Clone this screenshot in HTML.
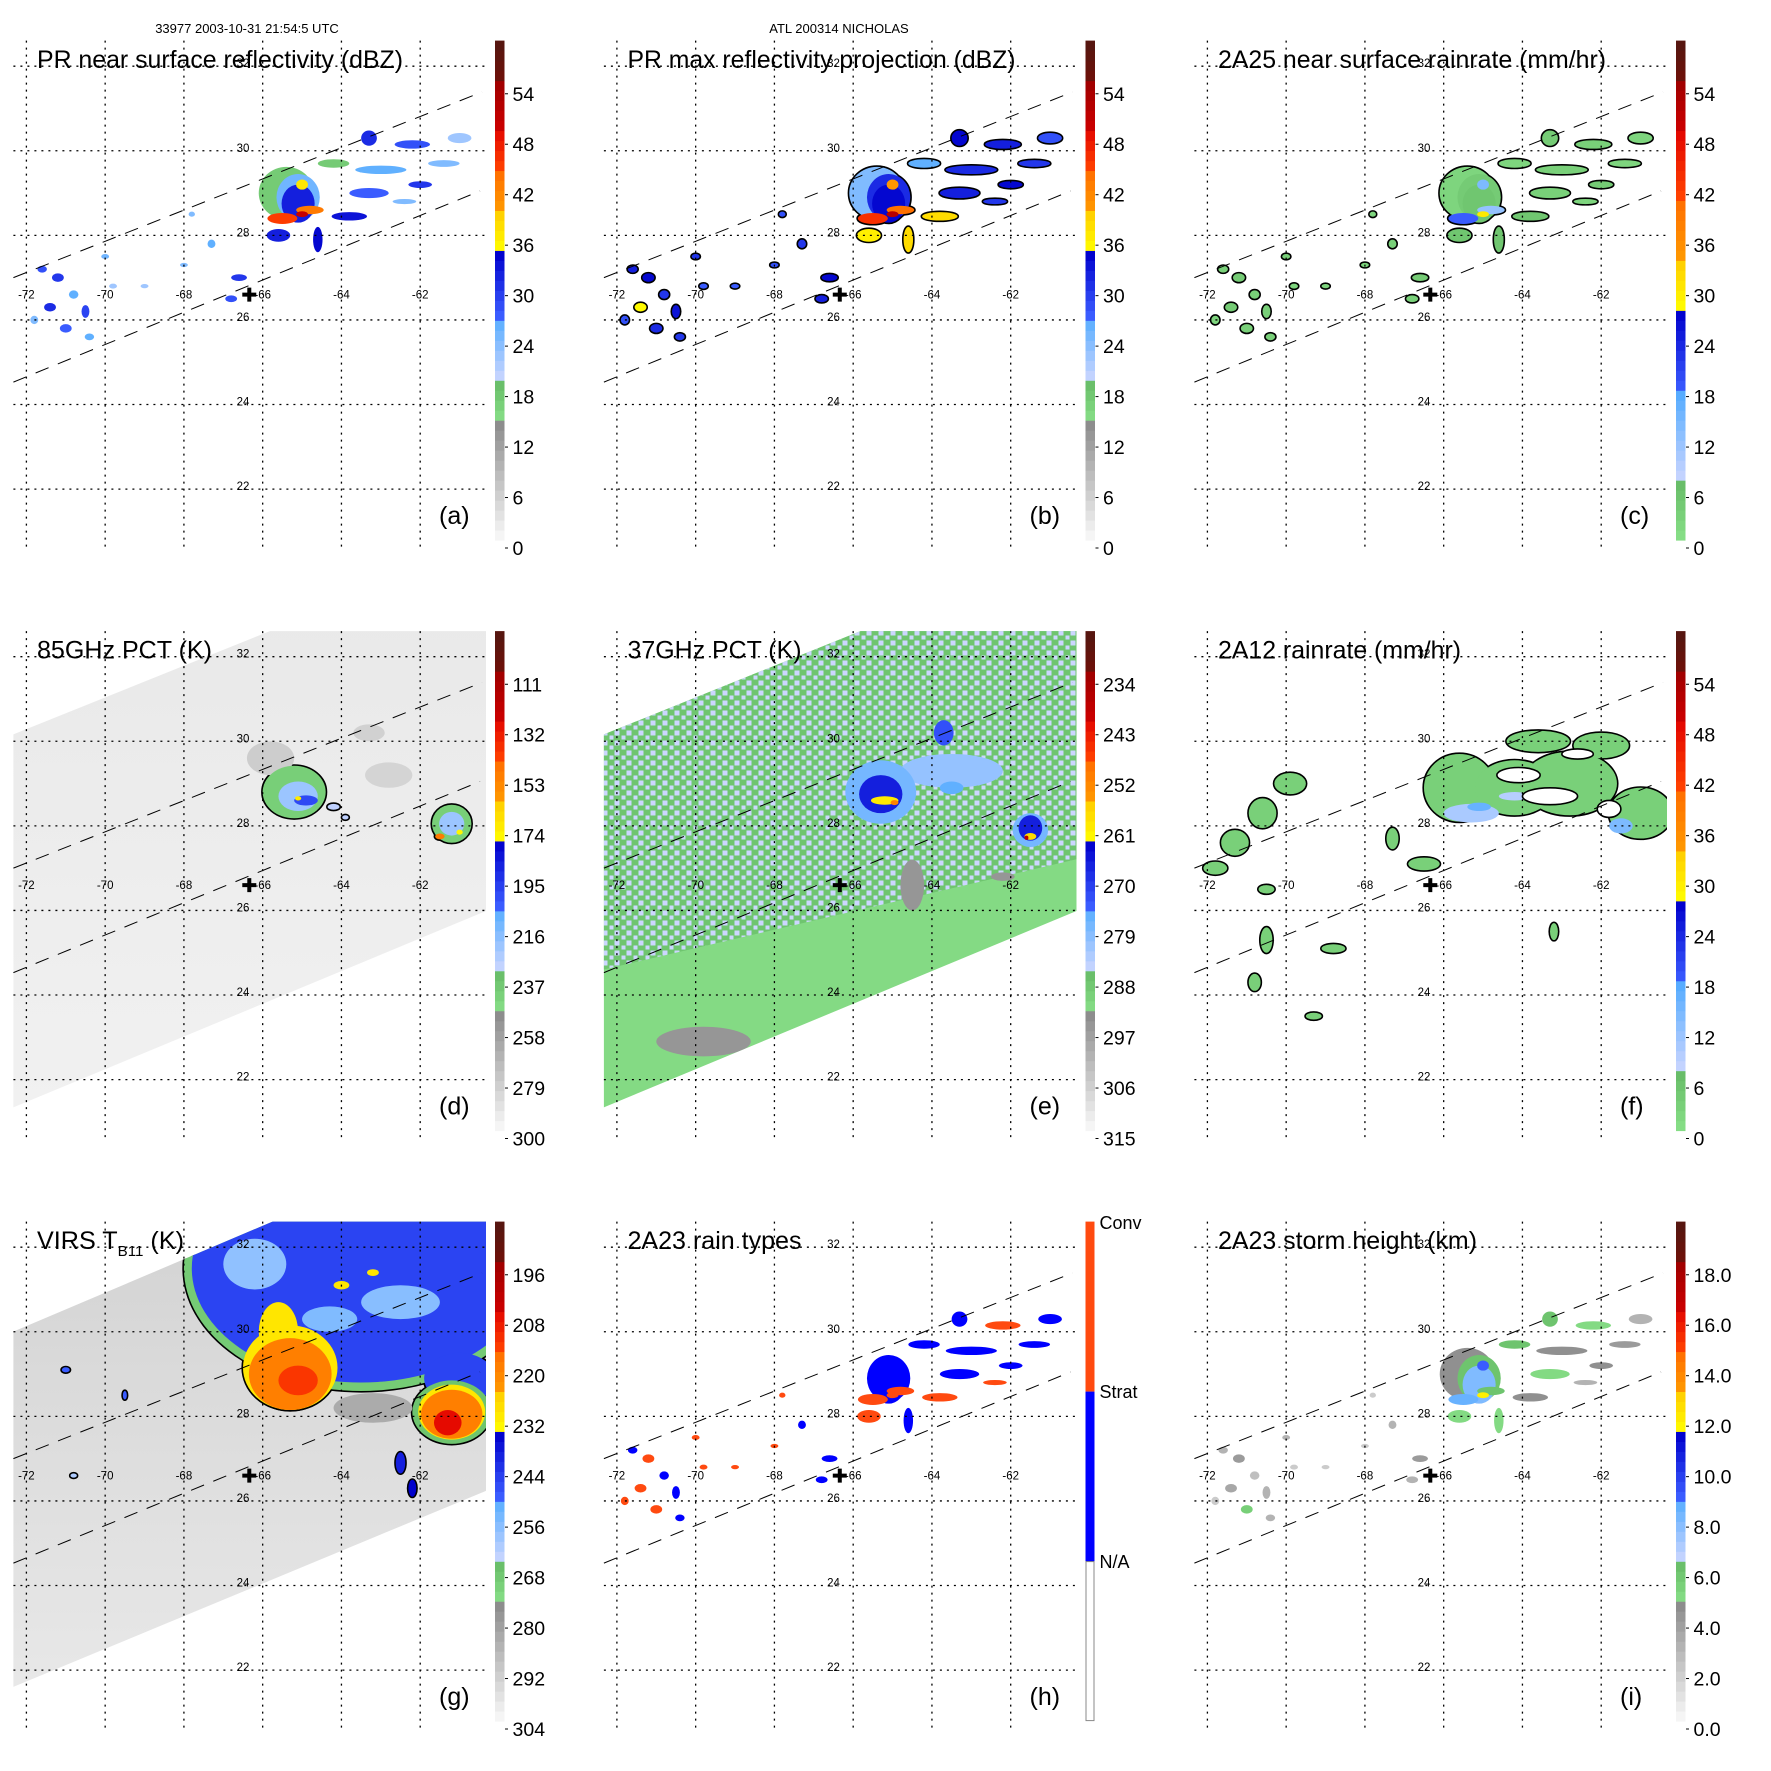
<!DOCTYPE html>
<html><head><meta charset="utf-8"><style>
html,body{margin:0;padding:0;background:#fff}
svg{display:block;font-family:"Liberation Sans",sans-serif}
</style></head><body>
<svg id="fig" xmlns="http://www.w3.org/2000/svg" width="1771" height="1771" viewBox="0 0 1771 1771">
<defs>
<pattern id="mott" width="12" height="10" patternUnits="userSpaceOnUse">
<rect width="12" height="10" fill="#6fc56f"/><rect x="0" y="0" width="5" height="5" fill="#ccd6ff"/><rect x="7" y="5" width="4" height="4" fill="#ccd6ff"/>
</pattern>
<linearGradient id="ggrad" x1="0" y1="0" x2="0" y2="1"><stop offset="0" stop-color="#d2d2d2"/><stop offset="1" stop-color="#e8e8e8"/></linearGradient>
<linearGradient id="dgrad" x1="0" y1="0" x2="0" y2="1"><stop offset="0" stop-color="#e9e9e9"/><stop offset="1" stop-color="#f1f1f1"/></linearGradient>
</defs>
<rect width="1771" height="1771" fill="#fff"/>
<text x="247" y="33" font-size="13" text-anchor="middle">33977 2003-10-31 21:54:5 UTC</text>
<text x="839" y="33" font-size="13" text-anchor="middle">ATL 200314 NICHOLAS</text>
</svg>
<script>
const lonTicks=[-72,-70,-68,-66,-64,-62];
const latTicks=[32,30,28,26,24,22];
const swathUpper=[[-72.33,27.0],[-60.43,31.39]];
const swathLower=[[-72.33,24.53],[-60.48,29.05]];
const stormCenter=[-66.34,26.6];
// PR cells
const prLon=[-71.6,-71.2,-70.8,-71.4,-70.5,-71.0,-70.4,-71.8,-69.8,-70.0,-69.0,-68.0,-67.3,-66.6,-66.8,-67.8,-65.4,-65.1,-65.1,-65.0,-65.5,-64.8,-65.0,-65.6,-64.6,-63.8,-63.3,-63.0,-63.3,-62.2,-61.4,-61.0,-62.0,-64.2,-62.4];
const prLat=[27.2,27.0,26.6,26.3,26.2,25.8,25.6,26.0,26.8,27.5,26.8,27.3,27.8,27.0,26.5,28.5,29.0,28.9,28.75,29.2,28.4,28.6,28.5,28.0,27.9,28.45,29.0,29.55,30.3,30.15,29.7,30.3,29.2,29.7,28.8];
const prRx=[0.12,0.15,0.12,0.15,0.1,0.15,0.12,0.1,0.1,0.1,0.1,0.1,0.1,0.2,0.15,0.08,0.7,0.55,0.42,0.15,0.38,0.35,0.15,0.3,0.12,0.45,0.5,0.65,0.2,0.45,0.4,0.3,0.3,0.4,0.3];
const prRy=[0.08,0.1,0.1,0.1,0.15,0.1,0.08,0.1,0.06,0.06,0.05,0.05,0.1,0.08,0.08,0.06,0.62,0.55,0.45,0.12,0.13,0.1,0.07,0.15,0.3,0.1,0.12,0.1,0.18,0.1,0.08,0.12,0.08,0.1,0.06];
const prA=[28,30,26,31,29,27,26,24,22,25,22,24,26,30,28,24,17,25,32,37,45,43,50,32,34,33,27,26,31,28,24,22,30,17,24];
const prB=[32,34,30,35,33,31,30,28,27,30,27,28,30,34,32,28,24,31,34,40,46,44,52,36,38,38,32,31,34,32,30,28,34,26,30];
const prC=[3,4,3,4,3,3,3,2,2,3,2,2,3,4,3,2,2,4,5,14,18,12,30,5,5,5,3,3,4,3,2,2,4,2,2];
const prH=[1,2,1,2,1,2,1,2,2,2,2,2,1,1,1,2,0,1,1,1,2,2,2,2,1,2,1,1,1,2,1,1,1,1,2];
const prI=[3,4,2.5,3.5,3,5.5,3,2,2,3,2,2,3,4,3,2,4.5,6,8,9,8.5,6,12,5,5,4.5,5,4.5,6,5,4,3,4.5,6,3];
// 85 GHz
const dLon=[-65.8,-63.3,-62.8,-65.2,-65.1,-64.9,-65.1,-64.2,-63.9,-61.2,-61.2,-61.5,-61.0];
const dLat=[29.6,30.2,29.2,28.8,28.7,28.6,28.65,28.45,28.2,28.05,28.05,27.75,27.85];
const dRx=[0.6,0.4,0.6,0.8,0.5,0.3,0.08,0.15,0.08,0.5,0.32,0.12,0.08];
const dRy=[0.4,0.2,0.3,0.62,0.35,0.12,0.05,0.07,0.05,0.45,0.28,0.07,0.06];
const dVal=[280,282,283,242,222,200,172,230,230,242,222,150,176];
// 37 GHz
const eLon=[-63.5,-64.5,-69.8,-62.2,-65.3,-65.3,-63.7,-63.5,-65.2,-64.95,-61.5,-61.5,-61.5,-61.6];
const eLat=[29.3,26.6,22.9,26.8,28.8,28.75,30.2,28.9,28.6,28.55,27.9,27.95,27.75,27.72];
const eRx=[1.3,0.3,1.2,0.3,0.9,0.55,0.25,0.3,0.35,0.1,0.45,0.3,0.15,0.05];
const eRy=[0.4,0.6,0.35,0.1,0.75,0.45,0.3,0.15,0.1,0.06,0.4,0.3,0.08,0.05];
const eVal=[281,296,296,296,278,267,273,276,260,252,278,267,258,238];
// 2A12
const fLon=[-71.3,-70.6,-69.9,-71.8,-70.5,-70.5,-67.3,-66.5,-63.2,-69.3,-68.8,-70.8,-65.6,-64.2,-62.8,-61.0,-63.6,-62.0,-65.3,-65.1,-61.5,-64.2];
const fLat=[27.6,28.3,29.0,27.0,26.5,25.3,27.7,27.1,25.5,23.5,25.1,24.3,28.9,28.9,29.0,28.3,30.0,29.9,28.3,28.45,28.0,28.7];
const fRx=[0.35,0.35,0.4,0.3,0.2,0.15,0.15,0.4,0.1,0.2,0.3,0.15,0.9,1.0,1.2,0.8,0.8,0.7,0.7,0.3,0.3,0.4];
const fRy=[0.3,0.35,0.25,0.15,0.1,0.3,0.25,0.15,0.2,0.08,0.1,0.2,0.8,0.65,0.75,0.6,0.25,0.3,0.22,0.1,0.18,0.1];
const fVal=[3,3,3,3,3,3,3,3,3,3,3,3,3,3,3,3,3,3,10,16,14,9];
const fHoleLon=[-64.1,-63.3,-62.6,-61.8];
const fHoleLat=[29.2,28.7,29.7,28.4];
const fHoleRx=[0.55,0.7,0.4,0.3];
const fHoleRy=[0.18,0.2,0.12,0.2];
// VIRS
const gLon=[-63.5,-63.5,-66.2,-62.5,-64.3,-61.0,-63.2,-65.6,-65.3,-65.3,-65.1,-61.2,-61.2,-61.2,-61.3,-62.5,-62.2,-71.0,-69.5,-70.8,-64.0,-63.2];
const gLat=[31.5,31.5,31.6,30.7,30.3,28.9,28.2,30.0,29.15,29.0,28.85,28.1,28.1,28.05,27.85,26.9,26.3,29.1,28.5,26.6,31.1,31.4];
const gRx=[4.5,4.3,0.8,1.0,0.7,0.9,1.0,0.5,1.2,1.05,0.5,1.0,0.85,0.78,0.35,0.12,0.1,0.1,0.05,0.08,0.2,0.15];
const gRy=[2.9,2.7,0.6,0.4,0.3,0.6,0.35,0.7,1.0,0.85,0.35,0.75,0.65,0.58,0.3,0.25,0.2,0.06,0.1,0.05,0.1,0.08];
const gVal=[270,246,258,257,256,246,284,230,230,219,213,268,230,219,206,240,235,250,250,262,230,230];
// colorbar tick labels
const labRefl=['0','6','12','18','24','30','36','42','48','54'];
const lab85=['300','279','258','237','216','195','174','153','132','111'];
const lab37=['315','306','297','288','279','270','261','252','243','234'];
const labVirs=['304','292','280','268','256','244','232','220','208','196'];
const labHt=['0.0','2.0','4.0','6.0','8.0','10.0','12.0','14.0','16.0','18.0'];

const NS='http://www.w3.org/2000/svg';
const svg=document.getElementById('fig');
const X=lon=>26.4+(lon+72)*39.38;
const Y=lat=>66.2+(32-lat)*42.29;
function mk(tag,attrs,parent){const e=document.createElementNS(NS,tag);for(const k in attrs)e.setAttribute(k,attrs[k]);parent.appendChild(e);return e;}
function hx(h){return [parseInt(h.slice(1,3),16),parseInt(h.slice(3,5),16),parseInt(h.slice(5,7),16)];}
function lerp(a,b,t){const A=hx(a),B=hx(b);return 'rgb('+A.map((v,i)=>Math.round(v+(B[i]-v)*t)).join(',')+')';}
const palStd=[[0,0.237,'#fafafa','#8a8a8a'],[0.237,0.32,'#88e088','#66bb66'],[0.32,0.45,'#ccd6ff','#50aaff'],[0.45,0.576,'#3a5cff','#0000cc'],[0.576,0.66,'#ffff00','#ffcc00'],[0.66,0.745,'#ff9a00','#ff6a00'],[0.745,0.83,'#ff4000','#e00000'],[0.83,0.915,'#c80000','#a00000'],[0.915,1.01,'#701008','#501812']];
const palRain=[[0,0.117,'#88e088','#66bb66'],[0.117,0.3,'#ccd6ff','#50aaff'],[0.3,0.457,'#3a5cff','#0000cc'],[0.457,0.56,'#ffff00','#ffcc00'],[0.56,0.69,'#ff9a00','#ff6a00'],[0.69,0.83,'#ff4000','#e00000'],[0.83,0.915,'#c80000','#a00000'],[0.915,1.01,'#701008','#501812']];
function colorAt(pal,f){f=Math.max(0,Math.min(1,f));for(const s of pal){if(f>=s[0]&&f<s[1])return lerp(s[2],s[3],(f-s[0])/(s[1]-s[0]));}return pal[pal.length-1][3];}
function poly(pts){return pts.map(p=>X(p[0]).toFixed(1)+','+Y(p[1]).toFixed(1)).join(' ');}

const panels=[
 {c:0,r:0,id:'a',title:'PR near surface reflectivity (dBZ)',tl:366,labels:labRefl,pal:palStd,norm:v=>v/60,cells:[prLon,prLat,prRx,prRy,prA],contour:null},
 {c:1,r:0,id:'b',title:'PR max reflectivity projection (dBZ)',tl:388,labels:labRefl,pal:palStd,norm:v=>v/60,cells:[prLon,prLat,prRx,prRy,prB],contour:v=>true},
 {c:2,r:0,id:'c',title:'2A25 near surface rainrate (mm/hr)',tl:388,labels:labRefl,pal:palRain,norm:v=>v/60,cells:[prLon,prLat,prRx,prRy,prC],contour:v=>true},
 {c:0,r:1,id:'d',title:'85GHz PCT (K)',tl:175,labels:lab85,pal:palStd,norm:v=>(300-v)/210,cells:[dLon,dLat,dRx,dRy,dVal],contour:v=>v<250,swath:[[-72.34,30.16],[-64.5,33.1],[-59,33.1],[-59,26.5],[-72.34,21.34]],bg:'url(#dgrad)'},
 {c:1,r:1,id:'e',title:'37GHz PCT (K)',tl:174,labels:lab37,pal:palStd,norm:v=>(315-v)/90,cells:[eLon,eLat,eRx,eRy,eVal],contour:null,swath:[[-72.34,30.16],[-64.5,33.1],[-59,33.1],[-59,26.5],[-72.34,21.34]],bg:'#84da84',mott:[[-72.34,30.16],[-64.5,33.1],[-59,33.1],[-59,27.5],[-72.34,24.6]]},
 {c:2,r:1,id:'f',title:'2A12 rainrate (mm/hr)',tl:243,labels:labRefl,pal:palRain,norm:v=>v/60,cells:[fLon,fLat,fRx,fRy,fVal],contour:v=>v<6,holes:true},
 {c:0,r:2,id:'g',title:'VIRS',tl:147,labels:labVirs,pal:palStd,norm:v=>(304-v)/120,cells:[gLon,gLat,gRx,gRy,gVal],contour:v=>v<272,swath:[[-72.34,30.0],[-64.5,33.1],[-59,33.1],[-59,26.75],[-72.34,21.6]],bg:'url(#ggrad)'},
 {c:1,r:2,id:'h',title:'2A23 rain types',tl:174,labels:null,pal:null,norm:null,cells:[prLon,prLat,prRx,prRy,prH],contour:null},
 {c:2,r:2,id:'i',title:'2A23 storm height (km)',tl:259,labels:labHt,pal:palStd,norm:v=>v/20,cells:[prLon,prLat,prRx,prRy,prI],contour:null}
];

panels.forEach(P=>{
 const g=mk('g',{transform:`translate(${(P.c*590.5).toFixed(1)},${(P.r*590.5).toFixed(1)})`},svg);
 
 
 const cp=mk('clipPath',{id:'clip'+P.id},g);
 mk('rect',{x:13.4,y:40.6,width:472.6,height:507.4},cp);
 const plot=mk('g',{'clip-path':`url(#clip${P.id})`},g);
 
 
 let dataG=plot;
 if(P.swath){
  const sc=mk('clipPath',{id:'sw'+P.id},g);
  mk('polygon',{points:poly(P.swath)},sc);
  const sp=mk('polygon',{points:poly(P.swath),fill:P.bg},plot);
  
  
  dataG=mk('g',{'clip-path':`url(#sw${P.id})`},plot);
  if(P.mott){
   const m=mk('polygon',{points:poly(P.mott),fill:'url(#mott)'},dataG);
   
   
  }
 }
 const [L,A,RX,RY,V]=P.cells;
 if(P.contour){
  for(let i=0;i<L.length;i++){
   if(P.id==='h'||!P.contour(V[i]))continue;
   const o=mk('ellipse',{cx:X(L[i]),cy:Y(A[i]),rx:RX[i]*39.38,ry:RY[i]*42.29,fill:'none',stroke:'#000','stroke-width':3.2},dataG);
   
   
  }
 }
 for(let i=0;i<L.length;i++){
  let col;
  if(P.id==='h'){ if(V[i]===0)continue; col=V[i]===2?'#ff4a10':'#0000ff'; }
  else col=colorAt(P.pal,P.norm(V[i]));
  const e=mk('ellipse',{cx:X(L[i]),cy:Y(A[i]),rx:RX[i]*39.38,ry:RY[i]*42.29,fill:col},dataG);
  
  
 }
 if(P.holes){
  for(let i=0;i<fHoleLon.length;i++){
   const h=mk('ellipse',{cx:X(fHoleLon[i]),cy:Y(fHoleLat[i]),rx:fHoleRx[i]*39.38,ry:fHoleRy[i]*42.29,fill:'#fff',stroke:'#000','stroke-width':1.6},dataG);
   
   
  }
 }
 lonTicks.forEach(lo=>{
  const l=mk('line',{x1:X(lo),x2:X(lo),y1:40.6,y2:548,stroke:'#000','stroke-width':1.3,'stroke-dasharray':'2,5'},g);
  
  
  const t=mk('text',{x:X(lo),y:298.5,'font-size':11.5,'text-anchor':'middle'},g);
  t.textContent=String(lo);
  
  
 });
 latTicks.forEach(la=>{
  const l=mk('line',{x1:13.4,x2:486,y1:Y(la),y2:Y(la),stroke:'#000','stroke-width':1.3,'stroke-dasharray':'2,5'},g);
  
  
  const t=mk('text',{x:243,y:Y(la)+1,'font-size':11.5,'text-anchor':'middle'},g);
  t.textContent=String(la);
  
  
 });
 [swathUpper,swathLower].forEach((s,k)=>{
  const l=mk('line',{x1:X(s[0][0]),y1:Y(s[0][1]),x2:X(s[1][0]),y2:Y(s[1][1]),stroke:'#000','stroke-width':1,'stroke-dasharray':'14,10'},g);
  
  
 });
 const cx=X(stormCenter[0]),cy=Y(stormCenter[1]);
 const cr=mk('path',{d:`M${cx-7},${cy}H${cx+7}M${cx},${cy-7}V${cy+7}`,stroke:'#000','stroke-width':4},g);
 
 
 const tt=mk('text',{x:37,y:68,'font-size':25,textLength:P.tl,lengthAdjust:'spacingAndGlyphs'},g);
 if(P.id==='g'){
  tt.innerHTML='VIRS T<tspan font-size="15" dy="7">B11</tspan><tspan dy="-7"> (K)</tspan>';
 } else tt.textContent=P.title;
 
 
 const pl=mk('text',{x:439,y:524,'font-size':25},g);
 pl.textContent='('+P.id+')';
 
 
 const cb=mk('g',{},g);
 
 
 if(P.id==='h'){
  mk('rect',{x:495,y:40.6,width:9,height:170,fill:'#ff4a10'},cb);
  mk('rect',{x:495,y:210.6,width:9,height:170,fill:'#0000ff'},cb);
  mk('rect',{x:495.5,y:380.6,width:8,height:159,fill:'#fff',stroke:'#888'},cb);
  [['Conv',48],['Strat',217],['N/A',387]].forEach(a=>{
   const t=mk('text',{x:509,y:a[1],'font-size':18},cb);
   t.textContent=a[0];
   
   
  });
 } else {
  const n=50,top=40.6,bot=540,h=(bot-top)/n;
  for(let k=0;k<n;k++){
   mk('rect',{x:495,y:(bot-(k+1)*h).toFixed(2),width:9.5,height:(h+0.6).toFixed(2),fill:colorAt(P.pal,(k+0.5)/n)},cb);
  }
  P.labels.forEach((s,k)=>{
   const y=548-k*50.47;
   mk('line',{x1:505,x2:508,y1:y,y2:y,stroke:'#000','stroke-width':1},cb);
   const t=mk('text',{x:512.5,y:y+7,'font-size':19.5},cb);
   t.textContent=s;
   
   
  });
 }
});
</script>
</body></html>
